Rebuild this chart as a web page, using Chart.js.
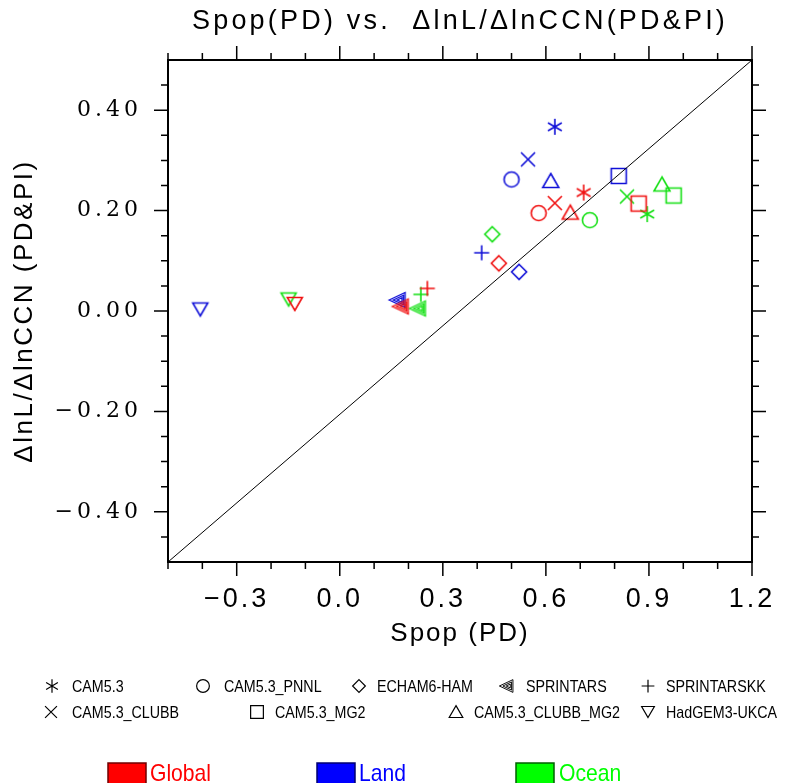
<!DOCTYPE html>
<html>
<head>
<meta charset="utf-8">
<script src="https://cdn.jsdelivr.net/npm/chart.js@4.4.1/dist/chart.umd.min.js"></script>
<style>
  html, body { margin: 0; padding: 0; background: #fff; }
</style>
</head>
<body>
<canvas id="myChart" width="793" height="783"></canvas>
<script>
// models and their marker shapes
var models = ['CAM5.3', 'CAM5.3_PNNL', 'ECHAM6-HAM', 'SPRINTARS', 'SPRINTARSKK', 'CAM5.3_CLUBB', 'CAM5.3_MG2', 'CAM5.3_CLUBB_MG2', 'HadGEM3-UKCA']
var markers = ['asterisk', 'circle', 'diamond', 'hatchTri', 'plus', 'cross', 'square', 'triUp', 'triDown']

// Spop (PD) per model
var spopGlobal = [0.710, 0.579, 0.463, 0.179, 0.255, 0.626, 0.870, 0.671, -0.131]
var spopLand   = [0.626, 0.500, 0.522, 0.170, 0.413, 0.548, 0.812, 0.614, -0.406]
var spopOcean  = [0.895, 0.728, 0.444, 0.229, 0.236, 0.836, 0.972, 0.938, -0.149]

// dlnL/dlnCCN (PD&PI) per model
var sensGlobal = [0.236, 0.195, 0.095, 0.009, 0.045, 0.215, 0.214, 0.196, 0.014]
var sensLand   = [0.367, 0.262, 0.078, 0.022, 0.116, 0.302, 0.269, 0.259, 0.003]
var sensOcean  = [0.193, 0.181, 0.153, 0.005, 0.033, 0.228, 0.230, 0.252, 0.023]

var regions = ['Global', 'Land', 'Ocean']
var regionColors = ['#f01010', '#1010d8', '#14e014']

// reference line, corner to corner
var refLineX = [-0.5, 1.2]
var refLineY = [-0.5, 0.5]

var xMajorTicks = [-0.3, 0, 0.3, 0.6, 0.9, 1.2]
var xMinorTicks = [-0.5, -0.4, -0.2, -0.1, 0.1, 0.2, 0.4, 0.5, 0.7, 0.8, 1.0, 1.1]
var yMajorTicks = [-0.4, -0.2, 0, 0.2, 0.4]
var yMinorTicks = [-0.45, -0.35, -0.3, -0.25, -0.15, -0.1, -0.05, 0.05, 0.1, 0.15, 0.25, 0.3, 0.35, 0.45]

var titleText = 'Spop(PD) vs.  \u0394lnL/\u0394lnCCN(PD&PI)'

function makeMarker(shape, color, s, lw) {
    var c = document.createElement('canvas')
    c.width = 26
    c.height = 26
    var g = c.getContext('2d')
    g.strokeStyle = color
    g.lineWidth = lw || 1.6
    g.translate(13, 13)
    g.scale(s, s)
    g.beginPath()
    if (shape === 'asterisk') {
        [90, 30, 150].forEach(a => {
            var r = 8, t = a * Math.PI / 180
            g.moveTo(-r * Math.cos(t), -r * Math.sin(t))
            g.lineTo(r * Math.cos(t), r * Math.sin(t))
        })
    } else if (shape === 'circle') {
        g.arc(0, 0, 7.5, 0, Math.PI * 2)
    } else if (shape === 'diamond') {
        g.moveTo(0, -7.5); g.lineTo(7.5, 0); g.lineTo(0, 7.5); g.lineTo(-7.5, 0); g.closePath()
    } else if (shape === 'hatchTri') {
        [1, 0.64, 0.3].forEach(k => {
            var cx = 2.5 * (1 - k)
            g.moveTo(-9 * k + cx, 0)
            g.lineTo(7 * k + cx, -7.5 * k)
            g.lineTo(7 * k + cx, 7.5 * k)
            g.closePath()
        })
    } else if (shape === 'plus') {
        g.moveTo(-7.5, 0); g.lineTo(7.5, 0); g.moveTo(0, -7.5); g.lineTo(0, 7.5)
    } else if (shape === 'cross') {
        g.moveTo(-7, -7); g.lineTo(7, 7); g.moveTo(7, -7); g.lineTo(-7, 7)
    } else if (shape === 'square') {
        g.rect(-7.5, -7.5, 15, 15)
    } else if (shape === 'triUp') {
        g.moveTo(0, -7.5); g.lineTo(8, 6.5); g.lineTo(-8, 6.5); g.closePath()
    } else if (shape === 'triDown') {
        g.moveTo(0, 6.5); g.lineTo(7.5, -6.5); g.lineTo(-7.5, -6.5); g.closePath()
    }
    g.stroke()
    return c
}

var fmt = (v, d) => (v < 0 ? '\u2212' : '') + Math.abs(v).toFixed(d)

function spaced(obj, method, px) {
    if (!obj || obj['_sp_' + method]) return
    var orig = obj[method]
    obj[method] = function () {
        var ctx = this.ctx
        ctx.save()
        ctx.letterSpacing = px + 'px'
        orig.apply(this, arguments)
        ctx.restore()
    }
    obj['_sp_' + method] = true
}

function condensedText(ctx, text, x, y, sx) {
    ctx.save()
    ctx.translate(x, y)
    ctx.scale(sx, 1)
    ctx.fillText(text, 0, 0)
    ctx.restore()
}

var xs = [spopGlobal, spopLand, spopOcean]
var ys = [sensGlobal, sensLand, sensOcean]

var datasets = regions.map((r, k) => ({
    label: r,
    data: models.map((m, i) => ({ x: xs[k][i], y: ys[k][i] })),
    pointStyle: markers.map(mk => makeMarker(mk, regionColors[k], 1, mk === 'hatchTri' ? 1.3 : 1.6)),
    pointRadius: 8,
    showLine: false,
}))

datasets.unshift({
    type: 'line',
    label: '1:1',
    data: refLineX.map((x, i) => ({ x: x, y: refLineY[i] })),
    borderColor: '#000',
    borderWidth: 1,
    pointRadius: 0,
    showLine: true,
})

var frameTicks = {
    id: 'frameTicks',
    beforeDraw(chart) {
        spaced(chart.titleBlock, 'draw', 3.2)
        spaced(chart.scales.x, 'drawLabels', 3)
        spaced(chart.scales.x, 'drawTitle', 2)
        spaced(chart.scales.y, 'drawLabels', 4)
        spaced(chart.scales.y, 'drawTitle', 2.5)
    },
    afterDraw(chart) {
        var ctx = chart.ctx
        var a = chart.chartArea
        var sx = chart.scales.x, sy = chart.scales.y
        ctx.save()
        ctx.strokeStyle = '#000'
        ctx.lineWidth = 1.5
        ctx.beginPath()
        var tick = (vals, len) => {
            vals.forEach(v => {
                var px = sx.getPixelForValue(v)
                ctx.moveTo(px, a.bottom); ctx.lineTo(px, a.bottom + len)
                ctx.moveTo(px, a.top); ctx.lineTo(px, a.top - len)
            })
        }
        var tickY = (vals, len) => {
            vals.forEach(v => {
                var py = sy.getPixelForValue(v)
                ctx.moveTo(a.left, py); ctx.lineTo(a.left - len, py)
                ctx.moveTo(a.right, py); ctx.lineTo(a.right + len, py)
            })
        }
        tick(xMajorTicks, 14); tick(xMinorTicks, 7)
        tickY(yMajorTicks, 14); tickY(yMinorTicks, 7)
        ctx.stroke()
        ctx.lineWidth = 2
        ctx.strokeRect(a.left, a.top, a.right - a.left, a.bottom - a.top)

        // marker legend
        var rows = [
            [[0, 52, 72], [1, 203, 224], [2, 359, 377], [3, 507, 526], [4, 648, 666]],
            [[5, 51, 72], [6, 257, 275], [7, 456, 474], [8, 648, 666]],
        ]
        var rowY = [686, 712]
        ctx.fillStyle = '#000'
        ctx.font = '17px "Liberation Sans", Arial, sans-serif'
        ctx.textBaseline = 'middle'
        rows.forEach((row, r) => {
            row.forEach(it => {
                var mk = markers[it[0]]
                var img = makeMarker(mk, '#000', 0.85, mk === 'hatchTri' ? 1.1 : 1.4)
                ctx.drawImage(img, it[1] - 13, rowY[r] - 13)
                condensedText(ctx, models[it[0]], it[2], rowY[r] + 1, 0.84)
            })
        })

        // region colour legend
        var boxX = [108, 317, 516]
        var textX = [150, 359, 559]
        var edge = ['#700000', '#000070', '#006000']
        var fill = ['#ff0000', '#0000ff', '#00ff00']
        ctx.font = '24px "Liberation Sans", Arial, sans-serif'
        ctx.textBaseline = 'alphabetic'
        regions.forEach((r, k) => {
            ctx.fillStyle = fill[k]
            ctx.fillRect(boxX[k], 763, 38, 24)
            ctx.strokeStyle = edge[k]
            ctx.lineWidth = 1.5
            ctx.strokeRect(boxX[k], 763, 38, 24)
            ctx.fillStyle = fill[k]
            condensedText(ctx, r, textX[k], 781, 0.88)
        })
        ctx.restore()
    }
}

var ctx = document.getElementById('myChart').getContext('2d')
var chart = new Chart(ctx, {
    type: 'scatter',
    data: { datasets: datasets },
    options: {
        responsive: false,
        animation: false,
        layout: { padding: { left: 0, right: 41, top: 0, bottom: 121 } },
        plugins: {
            legend: { display: false },
            tooltip: { enabled: false },
            title: {
                display: true,
                text: titleText,
                fullSize: false,
                color: '#000',
                font: { family: '"Liberation Sans", Arial, sans-serif', size: 27, weight: 'normal' },
                padding: { top: 5.5, bottom: 22.1 },
            },
        },
        scales: {
            x: {
                type: 'linear',
                min: -0.5,
                max: 1.2,
                afterBuildTicks: s => { s.ticks = xMajorTicks.map(v => ({ value: v })) },
                afterFit: s => { s.height = 100 },
                grid: { drawOnChartArea: false, drawTicks: true, tickLength: 14, color: 'transparent', tickColor: 'transparent' },
                border: { display: false },
                ticks: {
                    callback: v => fmt(v, 1),
                    color: '#000',
                    padding: 7,
                    maxRotation: 0,
                    autoSkip: false,
                    font: { family: '"Liberation Sans", Arial, sans-serif', size: 27 },
                },
                title: {
                    display: true,
                    text: 'Spop (PD)',
                    color: '#000',
                    font: { family: '"Liberation Sans", Arial, sans-serif', size: 26 },
                    padding: { top: 0, bottom: 12.5 },
                },
            },
            y: {
                type: 'linear',
                min: -0.5,
                max: 0.5,
                afterBuildTicks: s => { s.ticks = yMajorTicks.map(v => ({ value: v })) },
                afterFit: s => { s.width = 168 },
                grid: { drawOnChartArea: false, drawTicks: true, tickLength: 14, color: 'transparent', tickColor: 'transparent' },
                border: { display: false },
                ticks: {
                    callback: v => fmt(v, 2),
                    color: '#000',
                    padding: 12,
                    autoSkip: false,
                    font: { family: '"DejaVu Serif", serif', size: 22 },
                },
                title: {
                    display: true,
                    text: '\u0394lnL/\u0394lnCCN (PD&PI)',
                    color: '#000',
                    font: { family: '"Liberation Sans", Arial, sans-serif', size: 26 },
                    padding: { top: 9, bottom: 0 },
                },
            },
        },
    },
    plugins: [frameTicks],
})
</script>
</body>
</html>
